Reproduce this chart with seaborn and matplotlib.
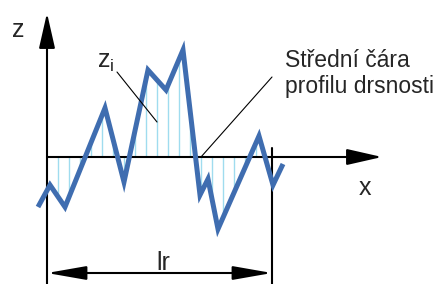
import numpy as np
import matplotlib
matplotlib.use("Agg")
import matplotlib.pyplot as plt
import seaborn as sns

# roughness profile vertices (x along mean line, z height), mean line at z=0
profile_x = [-9, 3, 18, 58, 77, 101, 119, 136, 153, 161, 171, 212, 226, 236]
profile_z = [-50, -28, -50, 49, -25, 87, 67, 107, -38, -22, -72, 21, -28, -7]

# ordinates z_i sampled along the sampling length lr
sample_x = np.arange(11, 225, 11)
lr_start, lr_end = 0, 225

sns.set_style("white")
plt.rcParams["font.family"] = ["Liberation Sans", "DejaVu Sans"]
plt.rcParams["mathtext.fontset"] = "custom"
plt.rcParams["mathtext.rm"] = "Liberation Sans"

fig = plt.figure(figsize=(4.41, 2.84), dpi=100)
ax = fig.add_axes([0, 0, 1, 1])
ax.set_xlim(-47, 394)
ax.set_ylim(-127, 157)
ax.axis("off")

# hatch lines between profile and mean line
sample_z = np.interp(sample_x, profile_x, profile_z)
ax.vlines(sample_x, 0, sample_z, color="#9fdcef", lw=1.0, zorder=1)

sns.lineplot(x=profile_x, y=profile_z, sort=False, estimator=None, ax=ax,
             color="#3f6db0", lw=3.6, zorder=3)
ax.lines[-1].set_solid_joinstyle("miter")
ax.lines[-1].set_solid_capstyle("butt")

arrow = dict(arrowstyle="-|>,head_length=1.45,head_width=0.33", mutation_scale=15,
             lw=1.5, color="black", shrinkA=0, shrinkB=0)
# z axis and mean line (x axis)
ax.annotate("", xy=(0, 144), xytext=(0, -127), arrowprops=arrow, zorder=2)
ax.annotate("", xy=(335, 0), xytext=(0, 0), arrowprops=arrow, zorder=2)
# right limit of lr
ax.plot([lr_end, lr_end], [9, -127], color="black", lw=1.5, zorder=2)

# dimension arrow lr
dim = dict(arrowstyle="<|-|>,head_length=1.6,head_width=0.28", mutation_scale=15,
           lw=1.5, color="black", shrinkA=0, shrinkB=0)
ax.annotate("", xy=(lr_start, -116), xytext=(lr_end, -116), arrowprops=dim)
ax.text(116, -113, "lr", fontsize=18, ha="center", va="baseline")

ax.text(-29, 120, "z", fontsize=18, ha="center", va="baseline")
ax.text(318, -38, "x", fontsize=18, ha="center", va="baseline")
ax.text(50, 89, r"$\mathregular{z_i}$", fontsize=18, ha="left", va="baseline")
ax.plot([70, 110], [85, 35], color="black", lw=0.8, zorder=4)

ax.text(238, 64, "Střední čára\nprofilu drsnosti", fontsize=16.5, ha="left",
        va="baseline", linespacing=1.18)
ax.plot([225, 154], [80, 0], color="black", lw=0.8, zorder=4)

plt.savefig("out.png", dpi=100)
